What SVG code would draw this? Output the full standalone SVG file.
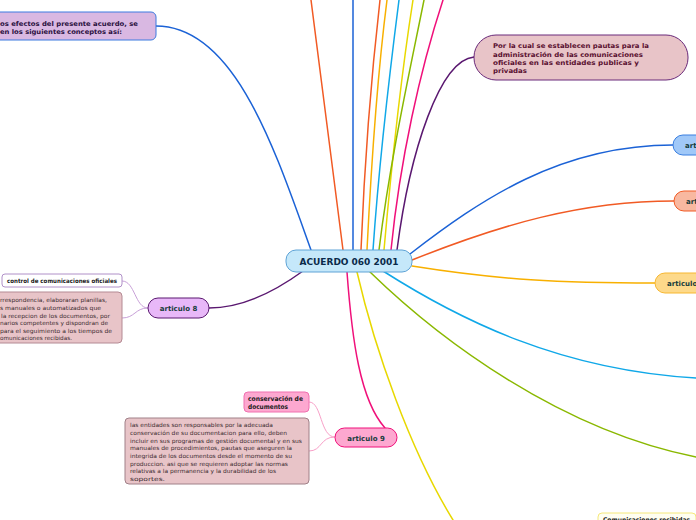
<svg xmlns="http://www.w3.org/2000/svg" width="696" height="520" viewBox="0 0 696 520">
<style>
.c{fill:none;stroke-width:1.5;stroke-linecap:round}
.s{fill:none;stroke-width:1}
.t{font-family:"DejaVu Sans","Liberation Sans",sans-serif}
.b{font-weight:bold}
.small{font-size:5.6px;fill:#3a2a2e}
.mid{font-size:6.5px;font-weight:bold}
.art{font-size:7px;font-weight:bold;fill:#173c3c}
</style>
<rect width="696" height="520" fill="#ffffff"/>
<g id="connectors">
  <path class="c" stroke="#1b62d6" d="M156,26 C235,26 275,150 311,250"/>
  <path class="c" stroke="#f15a24" d="M343,250 L311,0"/>
  <path class="c" stroke="#1b62d6" d="M353,250 L353,0"/>
  <path class="c" stroke="#f15a24" d="M361,250 C365,150 372,70 380,0"/>
  <path class="c" stroke="#f8b000" d="M367,250 C372,150 378,70 387,0"/>
  <path class="c" stroke="#10a8e8" d="M373,250 C380,150 390,70 399,0"/>
  <path class="c" stroke="#e8d800" d="M384,250 C392,160 402,70 413,0"/>
  <path class="c" stroke="#8ab800" d="M379,250 C390,160 410,70 424,0"/>
  <path class="c" stroke="#f0107a" d="M391,250 C400,160 420,70 443,0"/>
  <path class="c" stroke="#5a1870" d="M474,57 C440,60 410,150 397,250"/>
  <path class="c" stroke="#1b62d6" d="M410,254 C480,200 560,145 673,145"/>
  <path class="c" stroke="#f15a24" d="M412,260 C500,225 580,201 674,201"/>
  <path class="c" stroke="#f8b000" d="M412,266 C500,280 560,283 655,283"/>
  <path class="c" stroke="#10a8e8" d="M383,271 C460,320 560,370 696,378"/>
  <path class="c" stroke="#8ab800" d="M370,272 C440,340 560,430 696,457"/>
  <path class="c" stroke="#e8d800" d="M357,272 C375,350 410,450 453,520"/>
  <path class="c" stroke="#f0107a" d="M347,272 C352,340 360,400 385,428"/>
  <path class="c" stroke="#5a1870" d="M303,271 C270,295 240,308 209,308"/>
  <path class="s" stroke="#c8a0d8" d="M148,308 C135,308 135,281 122,281"/>
  <path class="s" stroke="#c8a0d8" d="M148,308 C135,308 135,318 122,318"/>
  <path class="s" stroke="#f8a0c8" d="M335,437 C320,437 322,402 309,402"/>
  <path class="s" stroke="#f8a0c8" d="M335,437 C320,437 322,451 309,451"/>
</g>
<g id="center">
  <rect x="286" y="250" width="126" height="22" rx="10" fill="#c5e8fa" stroke="#5ea3d6"/>
  <text class="t b" x="349" y="265" font-size="9" fill="#0a2a4a" text-anchor="middle" textLength="99" lengthAdjust="spacingAndGlyphs">ACUERDO 060 2001</text>
</g>
<g id="definiciones">
  <rect x="-6" y="12" width="162" height="28" rx="5" fill="#d9b8e2" stroke="#3d7be0"/>
  <text class="t mid" fill="#2a1040" x="0" y="26" textLength="138" lengthAdjust="spacingAndGlyphs">os efectos del presente acuerdo, se</text>
  <text class="t mid" fill="#2a1040" x="0" y="34" textLength="122" lengthAdjust="spacingAndGlyphs">en los siguientes conceptos así:</text>
</g>
<g id="titulo">
  <rect x="474" y="35" width="214" height="45" rx="22" fill="#e8c4c8" stroke="#6a2a7a"/>
  <text class="t mid" fill="#5a1030" x="493" y="48" textLength="156" lengthAdjust="spacingAndGlyphs">Por la cual se establecen pautas para la</text>
  <text class="t mid" fill="#5a1030" x="493" y="56.5" textLength="150" lengthAdjust="spacingAndGlyphs">administración de las comunicaciones</text>
  <text class="t mid" fill="#5a1030" x="493" y="65" textLength="146" lengthAdjust="spacingAndGlyphs">oficiales en las entidades publicas y</text>
  <text class="t mid" fill="#5a1030" x="493" y="73" textLength="34" lengthAdjust="spacingAndGlyphs">privadas</text>
</g>
<g id="art-blue">
  <rect x="673" y="135" width="40" height="20" rx="10" fill="#a0c8f8" stroke="#3a7fe0"/>
  <text class="t art" x="685" y="148">art</text>
</g>
<g id="art-orange">
  <rect x="674" y="191" width="40" height="20" rx="10" fill="#f8b8a0" stroke="#f15a24"/>
  <text class="t art" x="686" y="204">art</text>
</g>
<g id="art-amber">
  <rect x="655" y="273" width="60" height="20" rx="10" fill="#fdd98a" stroke="#f7b731"/>
  <text class="t art" x="667" y="286">articulo</text>
</g>
<g id="articulo8">
  <rect x="148" y="298" width="61" height="20" rx="10" fill="#e8b8f8" stroke="#5a1870"/>
  <text class="t art" x="178.5" y="311" text-anchor="middle">articulo 8</text>
</g>
<g id="control">
  <rect x="2" y="274" width="120" height="13" rx="3" fill="#ffffff" stroke="#b090c8"/>
  <text class="t b" font-size="6" fill="#1a1a1a" x="7" y="283" textLength="110" lengthAdjust="spacingAndGlyphs">control de comunicaciones oficiales</text>
</g>
<g id="texto8">
  <rect x="-6" y="292" width="128" height="51" rx="4" fill="#e8c4c8" stroke="#b48a94"/>
  <text class="t small" x="0" y="302" textLength="107" lengthAdjust="spacingAndGlyphs">rrespondencia, elaboraran planillas,</text>
  <text class="t small" x="0" y="310" textLength="101" lengthAdjust="spacingAndGlyphs">s manuales o automatizados que</text>
  <text class="t small" x="1" y="317.5" textLength="109" lengthAdjust="spacingAndGlyphs">la recepcion de los documentos, por</text>
  <text class="t small" x="0" y="325" textLength="108" lengthAdjust="spacingAndGlyphs">narios competentes y dispondran de</text>
  <text class="t small" x="0" y="332.5" textLength="112" lengthAdjust="spacingAndGlyphs">para el seguimiento a los tiempos de</text>
  <text class="t small" x="0" y="340" textLength="72" lengthAdjust="spacingAndGlyphs">omunicaciones recibidas.</text>
</g>
<g id="articulo9">
  <rect x="335" y="428" width="62" height="19" rx="9.5" fill="#fda8d0" stroke="#f0107a"/>
  <text class="t art" x="366" y="441" text-anchor="middle">articulo 9</text>
</g>
<g id="conservacion">
  <rect x="244" y="392" width="65" height="20" rx="4" fill="#fda8d0" stroke="#f070b0"/>
  <text class="t b" font-size="6.5" fill="#1a1a1a" x="248" y="401" textLength="55" lengthAdjust="spacingAndGlyphs">conservación de</text>
  <text class="t b" font-size="6.5" fill="#1a1a1a" x="248" y="409" textLength="40" lengthAdjust="spacingAndGlyphs">documentos</text>
</g>
<g id="texto9">
  <rect x="125" y="418" width="184" height="66" rx="4" fill="#e8c4c8" stroke="#a08088"/>
  <text class="t small" x="130" y="427" textLength="143" lengthAdjust="spacingAndGlyphs">las entidades son responsables por la adecuada</text>
  <text class="t small" x="130" y="435" textLength="157" lengthAdjust="spacingAndGlyphs">conservación de su documentacion para ello, deben</text>
  <text class="t small" x="130" y="442.5" textLength="172" lengthAdjust="spacingAndGlyphs">incluir en sus programas de gestión documental y en sus</text>
  <text class="t small" x="130" y="450" textLength="162" lengthAdjust="spacingAndGlyphs">manuales de procedimientos, pautas que aseguren la</text>
  <text class="t small" x="130" y="457.5" textLength="162" lengthAdjust="spacingAndGlyphs">integrida de los documentos desde el momento de su</text>
  <text class="t small" x="130" y="465.5" textLength="158" lengthAdjust="spacingAndGlyphs">produccion. asi que se requieren adoptar las normas</text>
  <text class="t small" x="130" y="473" textLength="146" lengthAdjust="spacingAndGlyphs">relativas a la permanencia y la durabilidad de los</text>
  <text class="t small" x="130" y="480.5" textLength="35" lengthAdjust="spacingAndGlyphs">soportes.</text>
</g>
<g id="recibidas">
  <rect x="598" y="513" width="98" height="20" rx="4" fill="#fffef0" stroke="#f5e87a"/>
  <text class="t b" font-size="6.5" fill="#1a1a1a" x="603" y="522" textLength="87" lengthAdjust="spacingAndGlyphs">Comunicaciones recibidas</text>
</g>
</svg>
